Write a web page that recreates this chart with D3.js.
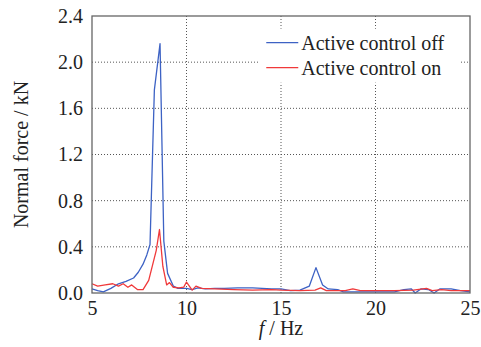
<!DOCTYPE html>
<html>
<head>
<meta charset="utf-8">
<script src="https://cdn.jsdelivr.net/npm/d3@7"></script>
</head>
<body style="margin:0">
<script>
const xTicks = [5, 10, 15, 20, 25];
const yTicks = [0, 0.4, 0.8, 1.2, 1.6, 2.0, 2.4];
const seriesNames = ["Active control off", "Active control on"];
const seriesColors = ["#3d62c4", "#f0393a"];

// Active control off
const offFreq = [5.0, 5.3, 5.6, 6.0, 6.4, 6.8, 7.2, 7.45, 7.7, 7.9, 8.07, 8.3, 8.6, 8.8, 9.0, 9.3, 9.55, 10.0, 10.3, 10.6, 11.0, 11.5, 12.0, 12.7, 13.5, 14.0, 14.5, 15.0, 15.5, 16.0, 16.5, 16.85, 17.2, 17.5, 18.0, 18.3, 19.0, 19.5, 20.0, 20.5, 21.0, 21.5, 21.9, 22.1, 22.4, 22.8, 23.1, 23.4, 24.0, 24.5, 25.0];
const offForce = [0.035, 0.02, 0.01, 0.04, 0.08, 0.10, 0.13, 0.18, 0.25, 0.33, 0.42, 1.76, 2.16, 0.45, 0.17, 0.06, 0.04, 0.04, 0.03, 0.045, 0.035, 0.04, 0.04, 0.045, 0.045, 0.04, 0.035, 0.035, 0.02, 0.025, 0.06, 0.22, 0.07, 0.035, 0.03, 0.01, 0.01, 0.01, 0.01, 0.01, 0.01, 0.03, 0.035, 0.0, 0.035, 0.03, 0.0, 0.035, 0.035, 0.02, 0.01];

// Active control on
const onFreq = [5.0, 5.3, 5.7, 6.1, 6.4, 6.65, 6.9, 7.1, 7.4, 7.7, 8.0, 8.2, 8.4, 8.57, 8.75, 8.95, 9.1, 9.3, 9.6, 9.85, 10.0, 10.3, 10.5, 10.8, 11.5, 12.5, 13.5, 14.5, 15.0, 16.0, 16.8, 17.1, 17.4, 18.4, 18.8, 19.2, 20.0, 21.0, 22.0, 22.7, 23.0, 23.5, 24.0, 25.0];
const onForce = [0.08, 0.06, 0.07, 0.08, 0.06, 0.08, 0.05, 0.07, 0.03, 0.03, 0.11, 0.24, 0.37, 0.55, 0.23, 0.07, 0.09, 0.05, 0.045, 0.05, 0.095, 0.025, 0.06, 0.04, 0.035, 0.03, 0.025, 0.03, 0.025, 0.02, 0.025, 0.045, 0.02, 0.02, 0.035, 0.02, 0.02, 0.02, 0.025, 0.04, 0.02, 0.03, 0.02, 0.02];

const width = 481, height = 347;
const margin = {top: 16, right: 11, bottom: 54, left: 92};
const innerWidth = width - margin.left - margin.right;
const innerHeight = height - margin.top - margin.bottom;

const svg = d3.select("body").append("svg")
    .attr("width", width)
    .attr("height", height)
    .attr("font-family", "Liberation Serif")
    .attr("font-size", 20);

const chart = svg.append("g")
    .attr("transform", `translate(${margin.left}, ${margin.top})`);

const x = d3.scaleLinear().domain([5, 25]).range([0, innerWidth]);
const y = d3.scaleLinear().domain([0, 2.4]).range([innerHeight, 0]);

// dotted grid
chart.append("g").selectAll("line")
    .data(xTicks.slice(1, -1))
    .join("line")
    .attr("x1", d => x(d)).attr("x2", d => x(d))
    .attr("y1", 0).attr("y2", innerHeight)
    .attr("stroke", "#555").attr("stroke-width", 1)
    .attr("stroke-dasharray", "1,2");

chart.append("g").selectAll("line")
    .data(yTicks.slice(1, -1))
    .join("line")
    .attr("x1", 0).attr("x2", innerWidth)
    .attr("y1", d => y(d)).attr("y2", d => y(d))
    .attr("stroke", "#555").attr("stroke-width", 1)
    .attr("stroke-dasharray", "1,2");

const xAxis = d3.axisBottom(x)
    .tickValues(xTicks)
    .tickSize(0)
    .tickPadding(8)
    .tickFormat(d3.format("d"));
const yAxis = d3.axisLeft(y)
    .tickValues(yTicks)
    .tickSize(0)
    .tickPadding(9)
    .tickFormat(d3.format(".1f"));

chart.append("g")
    .attr("class", "axis")
    .attr("transform", `translate(0, ${innerHeight})`)
    .call(xAxis);
chart.append("g")
    .attr("class", "axis")
    .call(yAxis);

// drop d3's default sans-serif / 10px so the svg font is inherited
d3.selectAll(".axis")
    .attr("font-family", null)
    .attr("font-size", null);
d3.selectAll(".axis > path").style("display", "none");
d3.selectAll(".axis text")
    .attr("fill", "#222")
    .attr("font-family", "Liberation Serif")
    .attr("font-size", 20);

// curves
const line = d3.line()
    .x(d => x(d[0]))
    .y(d => y(d[1]));

const series = [
    d3.zip(offFreq, offForce),
    d3.zip(onFreq, onForce)
];

chart.selectAll(".series")
    .data(series)
    .join("path")
    .attr("class", "series")
    .attr("d", line)
    .attr("fill", "none")
    .attr("stroke", (d, i) => seriesColors[i])
    .attr("stroke-width", 1.3)
    .attr("stroke-linejoin", "round");

// frame
chart.append("rect")
    .attr("width", innerWidth)
    .attr("height", innerHeight)
    .attr("fill", "none")
    .attr("stroke", "#666")
    .attr("stroke-width", 1.3);

// legend
const legend = chart.append("g")
    .attr("transform", `translate(${x(13.85)}, ${y(2.29)})`);

legend.append("rect")
    .attr("width", 200)
    .attr("height", 54)
    .attr("fill", "#fff");

seriesNames.forEach((name, i) => {
    const row = legend.append("g").attr("transform", `translate(0, ${14 + i * 25})`);
    row.append("line")
        .attr("x1", 7).attr("x2", 39)
        .attr("stroke", seriesColors[i])
        .attr("stroke-width", 1.3);
    row.append("text")
        .attr("x", 42)
        .attr("y", 7)
        .attr("font-family", "Liberation Serif")
        .attr("font-size", 20)
        .attr("fill", "#222")
        .text(name);
});

// axis titles
svg.append("text")
    .attr("transform", `translate(28, ${margin.top + innerHeight / 2}) rotate(-90)`)
    .attr("text-anchor", "middle")
    .attr("font-family", "Liberation Serif")
    .attr("font-size", 20)
    .attr("fill", "#222")
    .text("Normal force / kN");

const xTitle = svg.append("text")
    .attr("x", margin.left + innerWidth / 2)
    .attr("y", 335)
    .attr("text-anchor", "middle")
    .attr("font-family", "Liberation Serif")
    .attr("font-size", 20)
    .attr("fill", "#222");
xTitle.append("tspan").attr("font-style", "italic").text("f");
xTitle.append("tspan").text(" / Hz");
</script>
</body>
</html>
